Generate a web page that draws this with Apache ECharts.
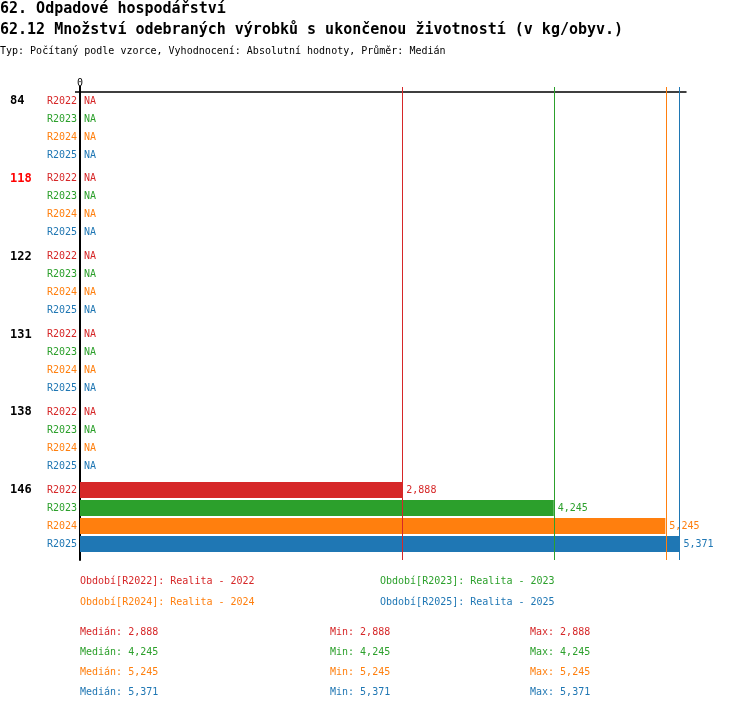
<!DOCTYPE html>
<html>
<head>
<meta charset="utf-8">
<script src="https://cdn.jsdelivr.net/npm/echarts@6/dist/echarts.min.js"></script>
<style>
html,body{margin:0;padding:0;background:#fff;}
#chart{width:750px;height:710px;}
</style>
</head>
<body>
<div id="chart"></div>
<script>
// ---- data ----
const titleMain = '62. Odpadové hospodářství';
const titleSub = '62.12 Množství odebraných výrobků s ukončenou životností (v kg/obyv.)';
const titleInfo = 'Typ: Počítaný podle vzorce, Vyhodnocení: Absolutní hodnoty, Průměr: Medián';
const categories = ['84', '118', '122', '131', '138', '146'];
const highlightedCategory = '118';
const periods = ['R2022', 'R2023', 'R2024', 'R2025'];
const periodNames = ['Realita - 2022', 'Realita - 2023', 'Realita - 2024', 'Realita - 2025'];
const r2022 = [null, null, null, null, null, 2.888];
const r2023 = [null, null, null, null, null, 4.245];
const r2024 = [null, null, null, null, null, 5.245];
const r2025 = [null, null, null, null, null, 5.371];
const medians = [2.888, 4.245, 5.245, 5.371];
const mins = [2.888, 4.245, 5.245, 5.371];
const maxs = [2.888, 4.245, 5.245, 5.371];
const axisTickLabels = [0];

// ---- styles ----
const seriesValues = [r2022, r2023, r2024, r2025];
const colors = ['#d62728', '#2ca02c', '#ff7f0e', '#1f77b4'];
const FONT = 'DejaVu Sans Mono';
const X_MAX = 5.43;
const LEFT = 80, WIDTH = 606;
const fmt = v => v.toFixed(3).replace('.', ',');

const grid = [], xAxis = [], yAxis = [], series = [];

categories.forEach((cat, g) => {
  grid.push({left: LEFT, width: WIDTH, top: 92 + g * 77.8, height: 72, outerBoundsMode: 'none', containLabel: false});
  xAxis.push({gridIndex: g, type: 'value', min: 0, max: X_MAX, show: false});
  const yi = yAxis.length;
  yAxis.push({
    gridIndex: g, type: 'category', position: 'left', data: periods, inverse: true,
    axisLine: {show: false}, axisTick: {show: false}, splitLine: {show: false},
    axisLabel: {margin: 3, fontFamily: FONT, fontSize: 10, color: (v, i) => colors[i]}
  });
  yAxis.push({
    gridIndex: g, type: 'category', position: 'left', data: periods, inverse: true,
    axisLine: {show: false}, axisTick: {show: false}, splitLine: {show: false},
    axisLabel: {
      align: 'left', margin: 70, fontFamily: FONT, fontSize: 12, fontWeight: 'bold',
      color: cat === highlightedCategory ? '#ff0000' : '#000',
      formatter: (v, i) => i === 0 ? cat : ''
    }
  });
  series.push({
    type: 'bar', xAxisIndex: g, yAxisIndex: yi, barWidth: 16, silent: true,
    data: periods.map((p, i) => {
      const v = seriesValues[i][g];
      return {
        value: v == null ? 0 : v,
        itemStyle: {color: colors[i]},
        label: {
          show: true, position: 'right', distance: 4,
          fontFamily: FONT, fontSize: 10, color: colors[i],
          formatter: v == null ? 'NA' : fmt(v)
        }
      };
    })
  });
});

// overlay grid for median lines and left axis line
const gA = grid.length;
grid.push({left: LEFT, width: WIDTH, top: 87, bottom: 150, outerBoundsMode: 'none', containLabel: false});
xAxis.push({gridIndex: gA, type: 'value', min: 0, max: X_MAX, show: false});
yAxis.push({
  gridIndex: gA, type: 'value', min: 0, max: 1,
  axisLine: {show: true, lineStyle: {color: '#000', width: 2}},
  axisTick: {show: false}, axisLabel: {show: false}, splitLine: {show: false}
});
series.push({
  type: 'line', xAxisIndex: gA, yAxisIndex: yAxis.length - 1, data: [], silent: true,
  markLine: {
    silent: true, symbol: 'none', animation: false,
    label: {show: false},
    data: medians.map((m, i) => ({xAxis: m, lineStyle: {color: colors[i], width: 1, type: 'solid'}}))
  }
});

// overlay grid for top axis line with "0"
const gB = grid.length;
grid.push({left: LEFT, width: WIDTH, top: 92, height: 1, outerBoundsMode: 'none', containLabel: false});
xAxis.push({
  gridIndex: gB, type: 'value', position: 'top', min: 0, max: X_MAX,
  axisLine: {show: true, onZero: false, lineStyle: {color: '#000', width: 1.5}},
  axisTick: {show: true, customValues: axisTickLabels, length: 6, lineStyle: {color: '#000', width: 2}},
  axisLabel: {show: true, customValues: axisTickLabels, margin: 4, fontFamily: FONT, fontSize: 10, color: '#000'},
  splitLine: {show: false}
});
yAxis.push({
  gridIndex: gB, type: 'value', min: 0, max: 1,
  axisLine: {show: false},
  axisTick: {show: true, customValues: [1], length: 5, lineStyle: {color: '#000', width: 1.5}},
  axisLabel: {show: false}, splitLine: {show: false}
});

// texts
const graphic = [];
const txt = (x, y, text, opts) => graphic.push({
  type: 'text', x, y, silent: true,
  style: Object.assign({text, fontFamily: FONT, fontSize: 10, fill: '#000', verticalAlign: 'middle', align: 'left'}, opts || {})
});
txt(0, 9.5, titleMain, {fontSize: 15, fontWeight: 'bold'});
txt(0, 30.5, titleSub, {fontSize: 15, fontWeight: 'bold'});
txt(0, 51, titleInfo, {fontSize: 10});
periods.forEach((p, i) => {
  txt(i % 2 === 0 ? 80 : 380, 581 + Math.floor(i / 2) * 21, 'Období[' + p + ']: ' + periodNames[i], {fill: colors[i]});
  const y = 632 + i * 20;
  txt(80, y, 'Medián: ' + fmt(medians[i]), {fill: colors[i]});
  txt(330, y, 'Min: ' + fmt(mins[i]), {fill: colors[i]});
  txt(530, y, 'Max: ' + fmt(maxs[i]), {fill: colors[i]});
});

const chart = echarts.init(document.getElementById('chart'), null, {renderer: 'canvas'});
chart.setOption({
  animation: false,
  backgroundColor: '#fff',
  grid, xAxis, yAxis, series, graphic
});
</script>
</body>
</html>
